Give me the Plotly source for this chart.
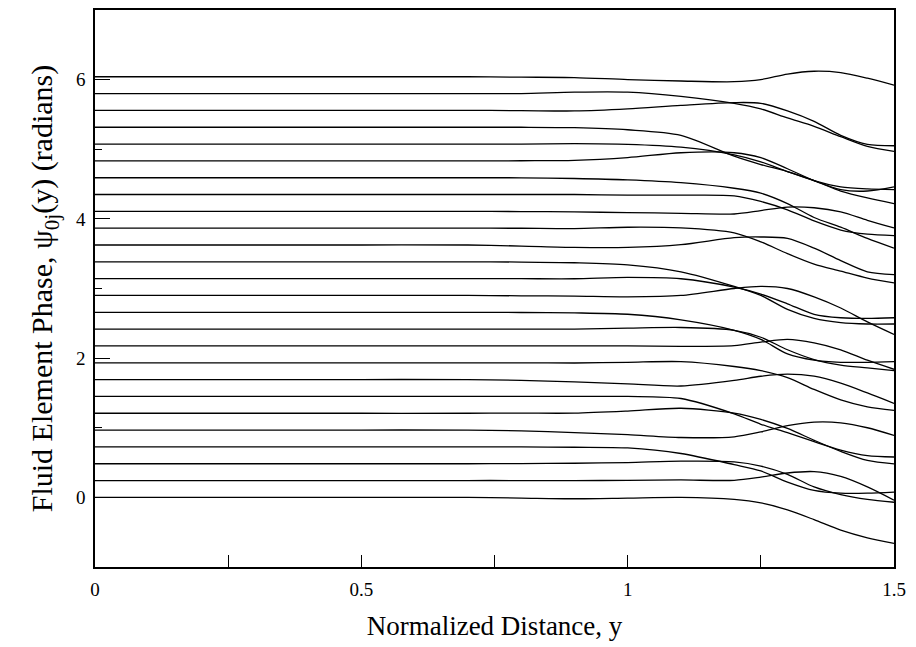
import plotly.graph_objects as go

# Sample positions along the normalized distance axis
y_dist = [0, 0.5, 0.7, 0.8, 0.9, 1.0, 1.1, 1.2, 1.25, 1.3, 1.35, 1.4, 1.45, 1.5]

# Phase of each fluid element j (initial phase 2*pi*j/26) at the sample positions
psi_00 = [0.000, 0.000, 0.000, -0.010, -0.020, -0.010, 0.000, -0.030, -0.080, -0.180, -0.320, -0.470, -0.580, -0.660]
psi_01 = [0.242, 0.242, 0.242, 0.242, 0.240, 0.245, 0.250, 0.245, 0.290, 0.350, 0.370, 0.300, 0.150, -0.040]
psi_02 = [0.483, 0.483, 0.483, 0.485, 0.490, 0.500, 0.520, 0.510, 0.450, 0.330, 0.150, 0.040, -0.030, -0.070]
psi_03 = [0.725, 0.725, 0.725, 0.725, 0.720, 0.710, 0.630, 0.470, 0.380, 0.220, 0.100, 0.060, 0.060, 0.076]
psi_04 = [0.967, 0.967, 0.967, 0.955, 0.930, 0.900, 0.860, 0.870, 0.940, 1.030, 1.080, 1.070, 1.000, 0.890]
psi_05 = [1.208, 1.208, 1.208, 1.210, 1.210, 1.240, 1.280, 1.210, 1.120, 0.990, 0.820, 0.660, 0.530, 0.480]
psi_06 = [1.450, 1.450, 1.450, 1.450, 1.450, 1.450, 1.420, 1.200, 1.050, 0.930, 0.800, 0.680, 0.600, 0.580]
psi_07 = [1.692, 1.692, 1.692, 1.680, 1.660, 1.630, 1.600, 1.680, 1.740, 1.770, 1.740, 1.640, 1.500, 1.350]
psi_08 = [1.933, 1.933, 1.933, 1.933, 1.930, 1.940, 1.950, 1.880, 1.820, 1.720, 1.550, 1.400, 1.300, 1.250]
psi_09 = [2.175, 2.175, 2.175, 2.175, 2.175, 2.175, 2.170, 2.180, 2.230, 2.270, 2.220, 2.120, 1.970, 1.840]
psi_10 = [2.417, 2.417, 2.417, 2.417, 2.417, 2.430, 2.440, 2.400, 2.300, 2.120, 1.980, 1.900, 1.860, 1.820]
psi_11 = [2.658, 2.658, 2.658, 2.655, 2.650, 2.630, 2.550, 2.400, 2.270, 2.060, 1.970, 1.940, 1.940, 1.950]
psi_12 = [2.900, 2.900, 2.900, 2.895, 2.890, 2.880, 2.900, 3.000, 3.030, 3.000, 2.880, 2.720, 2.520, 2.340]
psi_13 = [3.141, 3.141, 3.141, 3.141, 3.140, 3.160, 3.140, 3.020, 2.920, 2.780, 2.630, 2.580, 2.570, 2.580]
psi_14 = [3.383, 3.383, 3.383, 3.380, 3.370, 3.340, 3.240, 3.030, 2.900, 2.700, 2.570, 2.510, 2.490, 2.490]
psi_15 = [3.625, 3.625, 3.625, 3.610, 3.590, 3.590, 3.630, 3.730, 3.740, 3.720, 3.580, 3.400, 3.240, 3.200]
psi_16 = [3.866, 3.866, 3.866, 3.865, 3.860, 3.880, 3.870, 3.800, 3.670, 3.500, 3.350, 3.250, 3.150, 3.080]
psi_17 = [4.108, 4.108, 4.108, 4.105, 4.100, 4.090, 4.080, 4.070, 4.120, 4.170, 4.160, 4.100, 3.980, 3.870]
psi_18 = [4.350, 4.350, 4.350, 4.350, 4.350, 4.340, 4.340, 4.330, 4.250, 4.130, 3.970, 3.840, 3.780, 3.760]
psi_19 = [4.591, 4.591, 4.591, 4.590, 4.580, 4.560, 4.520, 4.440, 4.370, 4.220, 4.020, 3.880, 3.720, 3.580]
psi_20 = [4.833, 4.833, 4.833, 4.835, 4.840, 4.880, 4.950, 4.950, 4.880, 4.720, 4.550, 4.420, 4.400, 4.460]
psi_21 = [5.075, 5.075, 5.075, 5.075, 5.080, 5.070, 5.030, 4.920, 4.820, 4.680, 4.550, 4.460, 4.430, 4.420]
psi_22 = [5.316, 5.316, 5.316, 5.316, 5.310, 5.280, 5.200, 4.900, 4.780, 4.680, 4.550, 4.400, 4.300, 4.220]
psi_23 = [5.558, 5.558, 5.558, 5.555, 5.550, 5.580, 5.630, 5.670, 5.660, 5.550, 5.400, 5.200, 5.070, 5.050]
psi_24 = [5.800, 5.800, 5.800, 5.800, 5.820, 5.820, 5.760, 5.660, 5.580, 5.450, 5.330, 5.180, 5.040, 4.970]
psi_25 = [6.041, 6.041, 6.041, 6.035, 6.030, 6.000, 5.980, 5.970, 6.000, 6.080, 6.120, 6.100, 6.020, 5.920]

elements = [psi_00, psi_01, psi_02, psi_03, psi_04, psi_05, psi_06, psi_07, psi_08,
            psi_09, psi_10, psi_11, psi_12, psi_13, psi_14, psi_15, psi_16, psi_17,
            psi_18, psi_19, psi_20, psi_21, psi_22, psi_23, psi_24, psi_25]

x_ticks = [0, 0.5, 1, 1.5]
x_tick_text = ["0", "0.5", "1", "1.5"]
y_ticks = [0, 2, 4, 6]
y_tick_text = ["0", "2", "4", "6"]

fig = go.Figure()
for j, psi in enumerate(elements):
    fig.add_trace(go.Scatter(
        x=y_dist, y=psi, mode="lines",
        line=dict(color="black", width=1.3, shape="spline", smoothing=0.8),
        showlegend=False, hoverinfo="skip", name=f"j={j}",
    ))

serif = "Liberation Serif, Times New Roman, serif"

fig.update_layout(
    width=916, height=647,
    margin=dict(l=95, r=22, t=8, b=80),
    paper_bgcolor="white", plot_bgcolor="white",
    font=dict(family=serif, color="black", size=19),
    xaxis=dict(
        range=[0, 1.5], tickvals=x_ticks, ticktext=x_tick_text,
        ticks="inside", ticklen=12, tickwidth=1, tickcolor="black",
        minor=dict(ticks="inside", ticklen=12, dtick=0.25, tick0=0, tickcolor="black"),
        showgrid=False, zeroline=False,
        showline=True, linecolor="black", linewidth=1.5, mirror=True,
        tickfont=dict(family=serif, size=19),
        ticklabelstandoff=4,
        title=dict(text="Normalized Distance, y", font=dict(family=serif, size=27), standoff=18),
    ),
    yaxis=dict(
        range=[-1, 7], tickvals=y_ticks, ticktext=y_tick_text,
        ticks="inside", ticklen=15, tickwidth=1, tickcolor="black",
        minor=dict(ticks="inside", ticklen=7, dtick=1, tick0=1, tickcolor="black"),
        showgrid=False, zeroline=False,
        showline=True, linecolor="black", linewidth=1.5, mirror=True,
        tickfont=dict(family=serif, size=19),
        ticklabelstandoff=4,
        title=dict(text="Fluid Element Phase, \u03c8<sub>0j</sub>(y) (radians)",
                   font=dict(family=serif, size=30), standoff=14),
    ),
)

fig.write_html("out.html")
